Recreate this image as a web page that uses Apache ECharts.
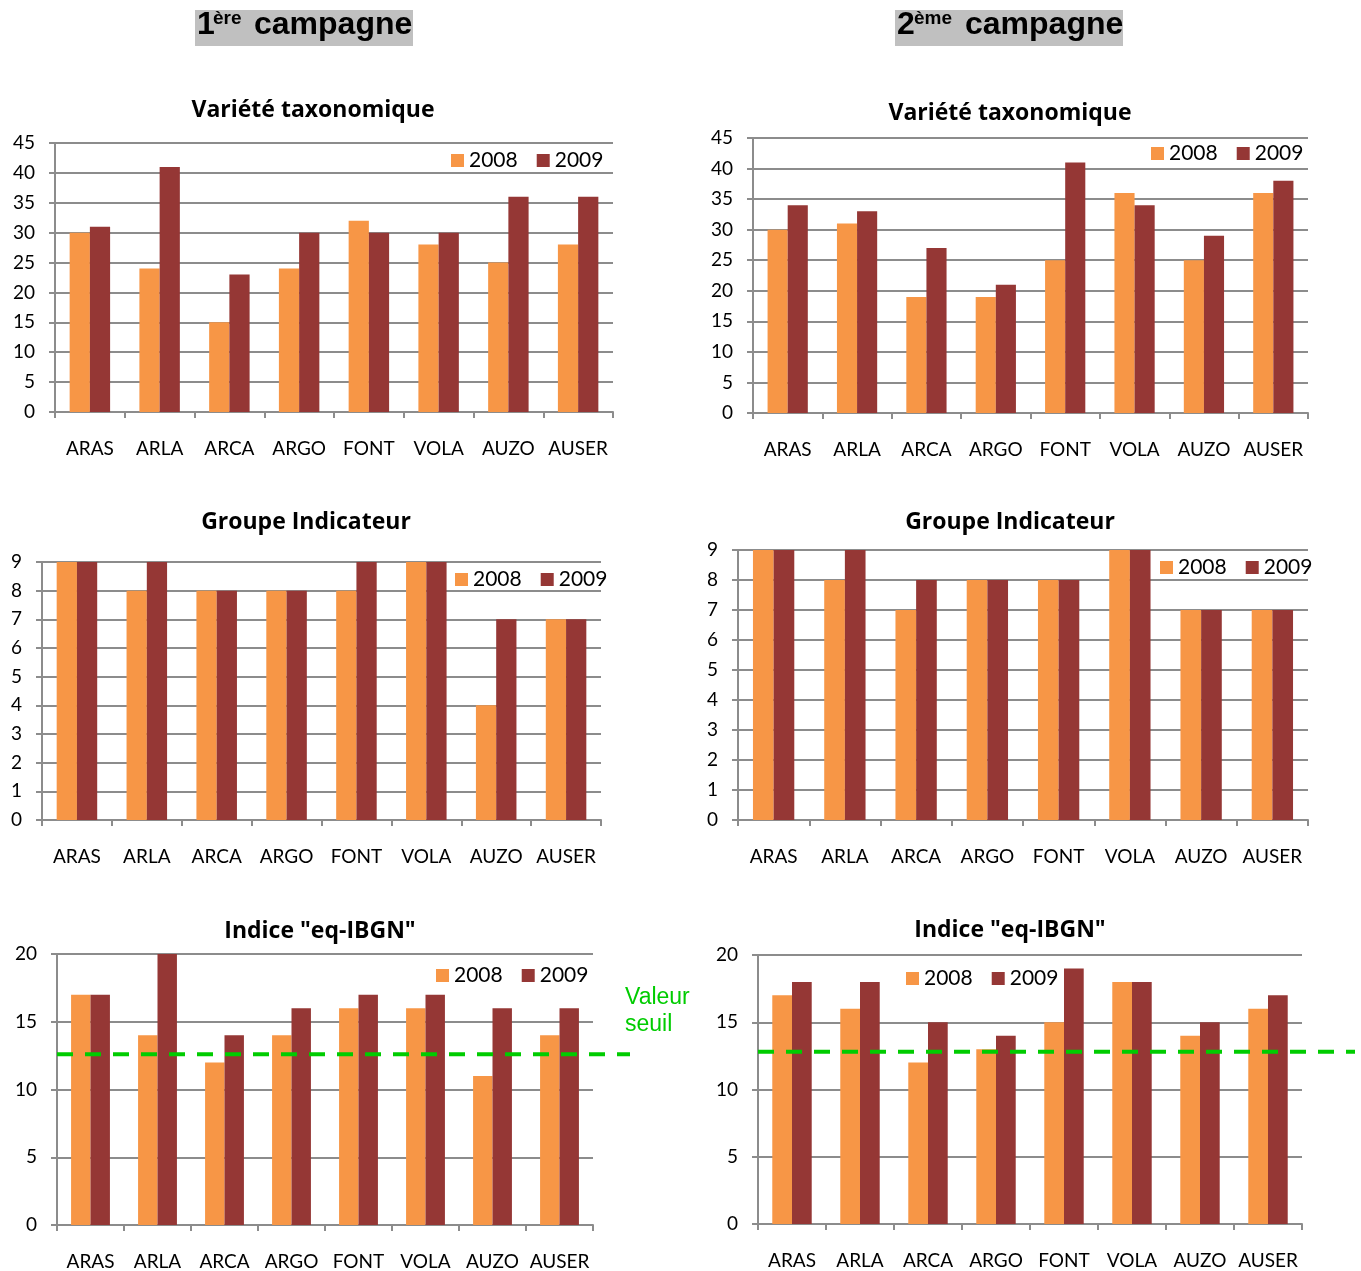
<!DOCTYPE html>
<html>
<head>
<meta charset="utf-8">
<title>Campagnes 2008 / 2009</title>
<script src="https://cdn.jsdelivr.net/npm/echarts@6/dist/echarts.min.js"></script>
<style>
  html, body { margin: 0; padding: 0; background: #fff; }
  #chart { width: 1361px; height: 1271px; }
</style>
</head>
<body>
<div id="chart"></div>
<script>
// Stations
const categories = ['ARAS', 'ARLA', 'ARCA', 'ARGO', 'FONT', 'VOLA', 'AUZO', 'AUSER'];
const years = ['2008', '2009'];

// 1ère campagne
const variete1_2008 = [30, 24, 15, 24, 32, 28, 25, 28];
const variete1_2009 = [31, 41, 23, 30, 30, 30, 36, 36];
const groupe1_2008 = [9, 8, 8, 8, 8, 9, 4, 7];
const groupe1_2009 = [9, 9, 8, 8, 9, 9, 7, 7];
const ibgn1_2008 = [17, 14, 12, 14, 16, 16, 11, 14];
const ibgn1_2009 = [17, 20, 14, 16, 17, 17, 16, 16];

// 2ème campagne
const variete2_2008 = [30, 31, 19, 19, 25, 36, 25, 36];
const variete2_2009 = [34, 33, 27, 21, 41, 34, 29, 38];
const groupe2_2008 = [9, 8, 7, 8, 8, 9, 7, 7];
const groupe2_2009 = [9, 9, 8, 8, 8, 9, 7, 7];
const ibgn2_2008 = [17, 16, 12, 13, 15, 18, 14, 16];
const ibgn2_2009 = [18, 18, 15, 14, 19, 18, 15, 17];

// Valeur seuil de l'indice eq-IBGN (ligne pointillée)
const seuilIbgn = [12.6, 12.8];

// Axes: min, max et pas
const varieteAxis = [0, 45, 5];
const groupeAxis = [0, 9, 1];
const ibgnAxis = [0, 20, 5];

const COL_2008 = '#F79646';
const COL_2009 = '#953735';
const GRID_COL = '#8c8c8c';
const SEUIL_COL = '#00cc00';
const FONT = 'Lato, "Open Sans", sans-serif';
const TITLE_FONT = 'bold 23px "Open Sans", Lato, sans-serif';

// Panel geometry (pixels)
const panels = [
  { grid: { left: 55,  top: 143, width: 558, height: 269 }, axis: varieteAxis, d08: variete1_2008, d09: variete1_2009,
    title: 'Variété taxonomique', tx: 313, ty: 110, legend: { left: 451, top: 150 } },
  { grid: { left: 753, top: 138, width: 555, height: 275 }, axis: varieteAxis, d08: variete2_2008, d09: variete2_2009,
    title: 'Variété taxonomique', tx: 1010, ty: 113, legend: { left: 1151, top: 143 } },
  { grid: { left: 42,  top: 562, width: 559, height: 258 }, axis: groupeAxis, d08: groupe1_2008, d09: groupe1_2009,
    title: 'Groupe Indicateur', tx: 306, ty: 522, legend: { left: 455, top: 569 } },
  { grid: { left: 738, top: 550, width: 570, height: 270 }, axis: groupeAxis, d08: groupe2_2008, d09: groupe2_2009,
    title: 'Groupe Indicateur', tx: 1010, ty: 522, legend: { left: 1160, top: 557 } },
  { grid: { left: 57,  top: 954, width: 536, height: 271 }, axis: ibgnAxis, d08: ibgn1_2008, d09: ibgn1_2009,
    title: 'Indice "eq-IBGN"', tx: 320, ty: 931, legend: { left: 436, top: 965 } },
  { grid: { left: 758, top: 955, width: 544, height: 269 }, axis: ibgnAxis, d08: ibgn2_2008, d09: ibgn2_2009,
    title: 'Indice "eq-IBGN"', tx: 1010, ty: 930, legend: { left: 906, top: 968 } }
];

// Extended strips that carry the threshold line past the plot area
const seuilGrids = [
  { left: 57,  top: 954, width: 573, height: 271 },
  { left: 758, top: 955, width: 597, height: 269 }
];

const grids = [], xAxes = [], yAxes = [], series = [], legends = [], graphics = [];

panels.forEach((p, i) => {
  grids.push(p.grid);
  xAxes.push({
    type: 'category', gridIndex: i, data: categories, boundaryGap: true,
    axisLine: { show: true, lineStyle: { color: GRID_COL, width: 2 } },
    axisTick: { show: true, length: 6, interval: 0, lineStyle: { color: GRID_COL, width: 2 } },
    axisLabel: { interval: 0, margin: 27, color: '#000', fontSize: 19, fontFamily: FONT }
  });
  yAxes.push({
    type: 'value', gridIndex: i, min: p.axis[0], max: p.axis[1], interval: p.axis[2],
    axisLine: { show: true, lineStyle: { color: GRID_COL, width: 2 } },
    axisTick: { show: true, length: 6, lineStyle: { color: GRID_COL, width: 2 } },
    splitLine: { show: true, lineStyle: { color: GRID_COL, width: 2 } },
    axisLabel: { margin: 20, color: '#000', fontSize: 19, fontFamily: FONT }
  });
  series.push({
    name: years[0], type: 'bar', xAxisIndex: i, yAxisIndex: i, data: p.d08,
    itemStyle: { color: COL_2008 }, barGap: '0%', barCategoryGap: '42%'
  });
  series.push({
    name: years[1], type: 'bar', xAxisIndex: i, yAxisIndex: i, data: p.d09,
    itemStyle: { color: COL_2009 }, barGap: '0%', barCategoryGap: '42%'
  });
  legends.push({
    data: years, left: p.legend.left, top: p.legend.top, orient: 'horizontal',
    padding: 0, icon: 'rect', itemWidth: 13, itemHeight: 13, itemGap: 19,
    selectedMode: false,
    textStyle: { color: '#000', fontSize: 21, fontFamily: FONT, padding: [0, 0, 0, 0] }
  });
  graphics.push({
    type: 'text', x: p.tx, y: p.ty,
    style: { text: p.title, fill: '#000', font: TITLE_FONT, align: 'center', verticalAlign: 'middle' }
  });
});

seuilGrids.forEach((g, k) => {
  const gi = grids.length;
  grids.push(g);
  xAxes.push({ type: 'value', gridIndex: gi, min: 0, max: 1, show: false });
  yAxes.push({ type: 'value', gridIndex: gi, min: ibgnAxis[0], max: ibgnAxis[1], show: false });
  series.push({
    name: 'Valeur seuil', type: 'line', xAxisIndex: gi, yAxisIndex: gi,
    data: [[0, seuilIbgn[k]], [1, seuilIbgn[k]]],
    symbol: 'none', silent: true, z: 5,
    lineStyle: { color: SEUIL_COL, width: 4, type: [16, 12] }
  });
});

// Campaign headers
function header(x, num, sup, boxW, supX, campX) {
  graphics.push({ type: 'rect', shape: { x: x, y: 10, width: boxW, height: 36 }, style: { fill: '#c0c0c0' } });
  graphics.push({ type: 'text', x: x + 2, y: 41,
    style: { text: num, fill: '#000', font: 'bold 32px "Liberation Sans", Arial, sans-serif', verticalAlign: 'bottom' } });
  graphics.push({ type: 'text', x: supX, y: 9,
    style: { text: sup, fill: '#000', font: 'bold 19px "Liberation Sans", Arial, sans-serif', verticalAlign: 'top' } });
  graphics.push({ type: 'text', x: campX, y: 41,
    style: { text: 'campagne', fill: '#000', font: 'bold 32px "Liberation Sans", Arial, sans-serif', verticalAlign: 'bottom' } });
}
header(195, '1', 'ère', 218, 213, 254);
header(895, '2', 'ème', 228, 914, 965);

// Threshold caption
graphics.push({ type: 'text', x: 625, y: 1009,
  style: { text: 'Valeur', fill: SEUIL_COL, font: '23px "Liberation Sans", Arial, sans-serif', verticalAlign: 'bottom' } });
graphics.push({ type: 'text', x: 625, y: 1036,
  style: { text: 'seuil', fill: SEUIL_COL, font: '23px "Liberation Sans", Arial, sans-serif', verticalAlign: 'bottom' } });

const chart = echarts.init(document.getElementById('chart'), null, { renderer: 'canvas' });
chart.setOption({
  animation: false,
  backgroundColor: '#fff',
  grid: grids,
  xAxis: xAxes,
  yAxis: yAxes,
  legend: legends,
  series: series,
  graphic: graphics
});
</script>
</body>
</html>
